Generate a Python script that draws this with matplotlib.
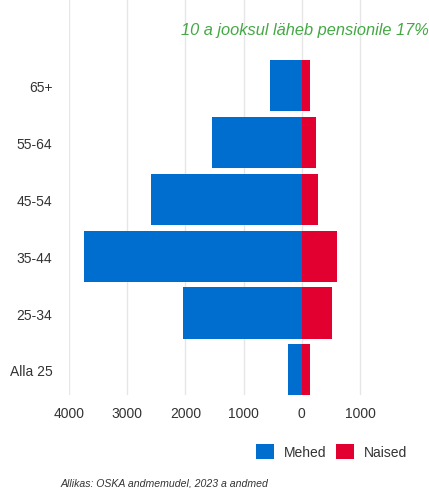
import matplotlib.pyplot as plt
from matplotlib.patches import Patch

plt.rcParams['font.family'] = ['Liberation Sans', 'DejaVu Sans']

# Andmed (loetud pildilt)
vanus = ["Alla 25", "25-34", "35-44", "45-54", "55-64", "65+"]
mehed = [240, 2045, 3735, 2595, 1540, 550]
naised = [137, 520, 596, 280, 240, 137]
x_ticks = [-4000, -3000, -2000, -1000, 0, 1000]

SININE = "#006ecf"
PUNANE = "#e1002f"
ROHELINE = "#45a845"

fig = plt.figure(figsize=(4.29, 4.89), dpi=100)
ax = fig.add_axes([0.161, 0.19, 0.814, 0.81])

y = range(len(vanus))
ax.barh(y, [-m for m in mehed], height=0.9, color=SININE, zorder=3)
ax.barh(y, naised, height=0.9, color=PUNANE, zorder=3)

ax.set_xlim(-4000, 2000)
ax.set_ylim(-0.445, 6.53)
ax.set_xticks(x_ticks)
ax.set_xticklabels([f"{abs(t)}" for t in x_ticks])
ax.set_yticks(list(y))
ax.set_yticklabels(vanus)
ax.tick_params(length=0, labelsize=10, colors="#333333")
ax.tick_params(axis="y", pad=12)
ax.tick_params(axis="x", pad=8)
ax.grid(axis="x", color="#e6e6e6", linewidth=1, zorder=0)
for s in ax.spines.values():
    s.set_visible(False)

ax.text(1.03, 0.922, "10 a jooksul läheb pensionile 17%", transform=ax.transAxes,
        ha="right", va="center", fontsize=11.8, style="italic", color=ROHELINE)

kasitlejad = [Patch(facecolor=SININE, label="Mehed"), Patch(facecolor=PUNANE, label="Naised")]
fig.legend(handles=kasitlejad, loc="center", bbox_to_anchor=(0.772, 0.075), ncol=2,
           frameon=False, fontsize=10, handlelength=1.3, handleheight=1.3,
           columnspacing=0.7, handletextpad=0.7, labelcolor="#333333")

fig.text(0.14, 0.002, "Allikas: OSKA andmemudel, 2023 a andmed", fontsize=7.6,
         style="italic", color="#333333", ha="left", va="bottom")

fig.savefig("out.png", dpi=100)
